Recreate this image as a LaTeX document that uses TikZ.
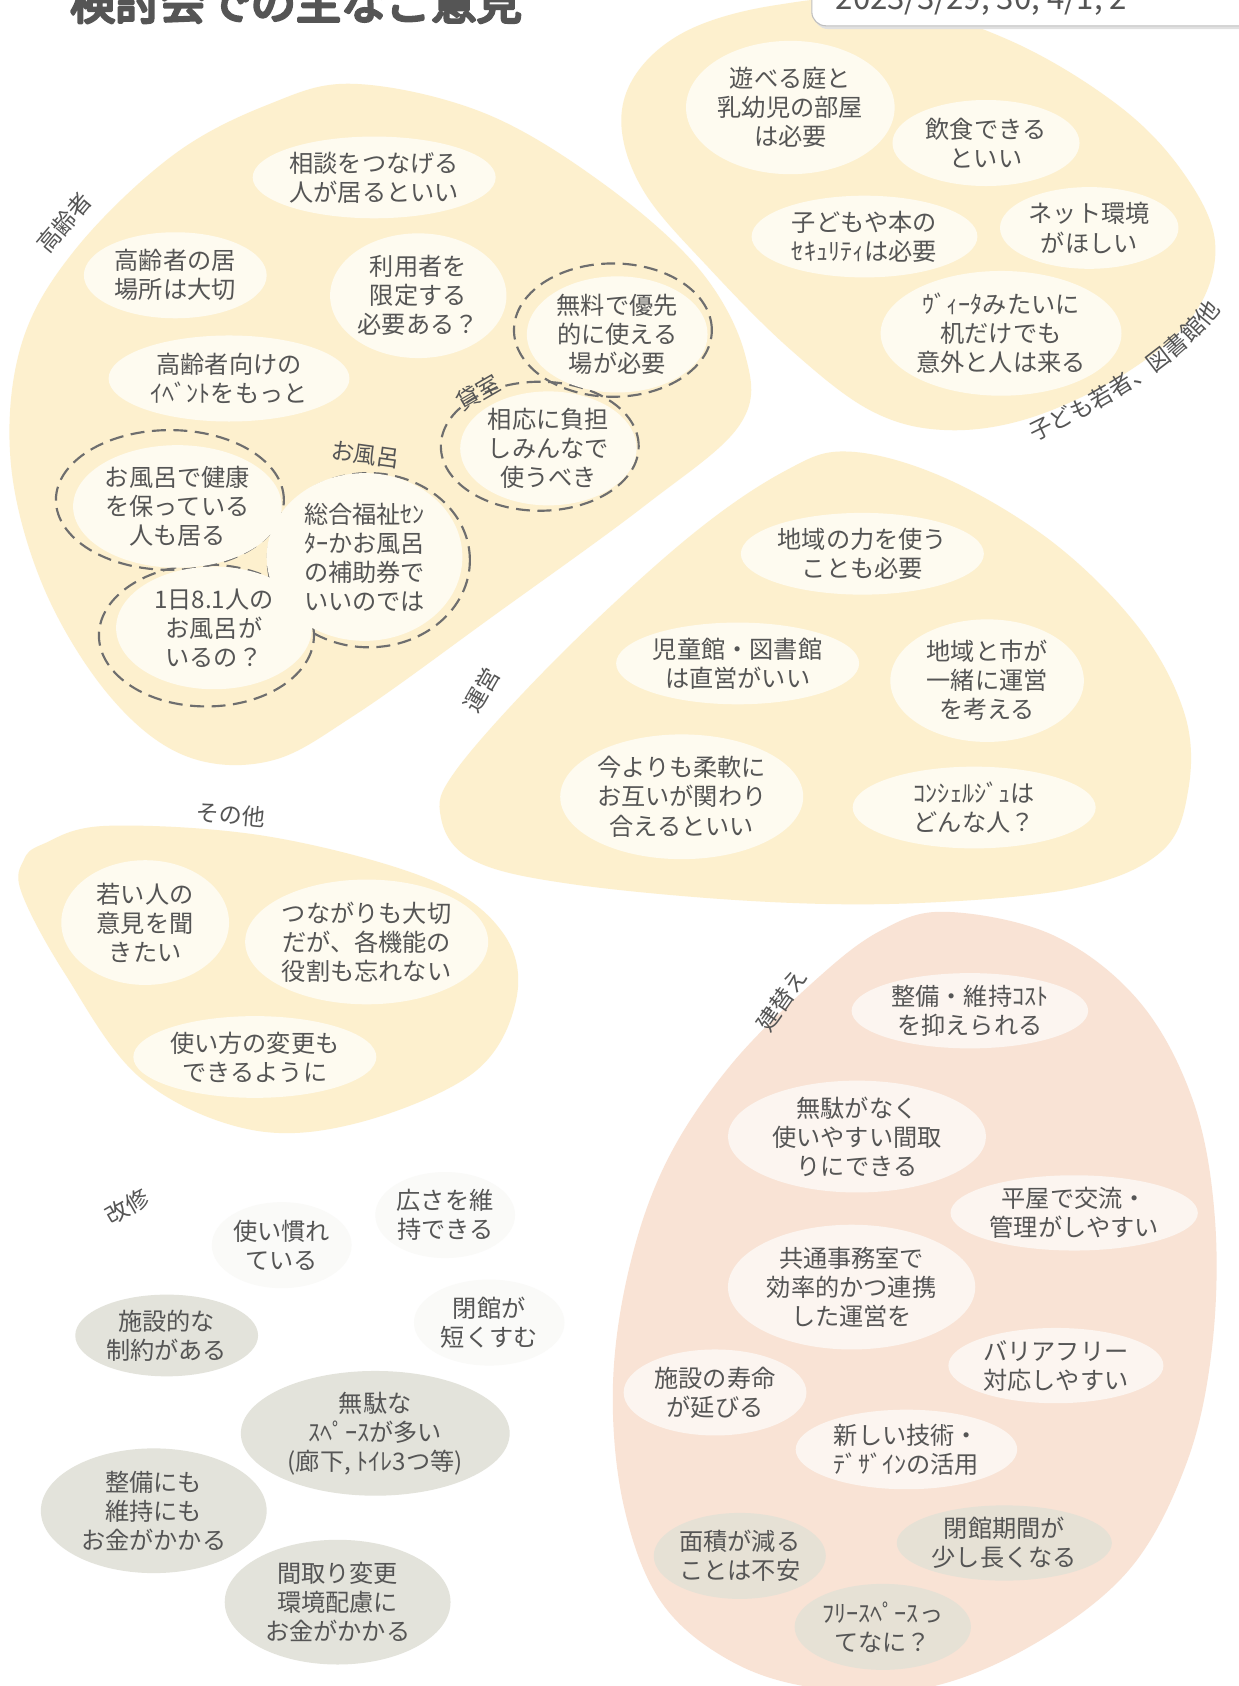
\documentclass[tikz,border=0pt]{standalone}
\usepackage{fontspec}
\setmainfont{Noto Sans CJK JP}
\usetikzlibrary{shapes.geometric,decorations.text}
\definecolor{blobY}{HTML}{FDF0CE}
\definecolor{blobP}{HTML}{F9E3D5}
\definecolor{creamY}{HTML}{FEFBF0}
\definecolor{creamP}{HTML}{FCF5F0}
\definecolor{grayE}{HTML}{E3E3DB}
\definecolor{grayP}{HTML}{E6E1D5}
\definecolor{faintE}{HTML}{FAFAF8}
\definecolor{txt}{HTML}{555555}
\definecolor{ringc}{HTML}{6E6E6E}
\newcommand{\heavytext}[1]{\special{pdf:literal direct 2 Tr 2.6 w 1 j 0.333 0.333 0.333 RG}#1\special{pdf:literal direct 0 Tr}}
\tikzset{
  idea/.style={ellipse, inner xsep=-30pt, inner ysep=-20pt, outer sep=0pt, align=center,
     text=txt, font=\fontsize{22.5}{27}\selectfont},
  ideaY/.style={idea, fill=creamY},
  ideaP/.style={idea, fill=creamP},
  ideaG/.style={idea, fill=grayE},
  ideaGP/.style={idea, fill=grayP},
  ideaF/.style={idea, fill=faintE},
  ring/.style={ellipse, draw=ringc, line width=2pt, dash pattern=on 13pt off 7pt, inner sep=0pt},
  grp/.style={text=txt, font=\fontsize{21.5}{24}\selectfont, inner sep=0pt}
}
\begin{document}
\begin{tikzpicture}[x=1pt,y=-1pt]
\useasboundingbox (0,0) rectangle (1152,1568);
\fill[white] (0,0) rectangle (1152,1568);

% ---- blobs ----
\fill[blobY] plot[smooth cycle, tension=0.6] coordinates {
 (330,78) (450,105) (560,170) (650,250) (693,330) (688,395) (600,470) (460,572)
 (330,665) (250,708) (170,702) (100,645) (40,545) (10,430) (20,320) (70,232) (160,145) (250,97)};
\fill[blobY] plot[smooth cycle, tension=0.6] coordinates {
 (720,5) (820,0) (940,38) (1040,98) (1100,160) (1130,225) (1112,290) (1050,345)
 (960,388) (880,400) (810,382) (735,325) (660,250) (600,180) (578,118) (592,68) (640,28)};
\fill[blobY] plot[smooth cycle, tension=0.6] coordinates {
 (790,420) (880,445) (980,505) (1060,585) (1102,665) (1105,735) (1080,792) (1000,826)
 (850,840) (700,838) (530,822) (440,800) (410,760) (425,715) (520,610) (640,500) (730,438)};
\fill[blobY] plot[smooth cycle, tension=0.6] coordinates {
 (40,785) (100,768) (250,778) (400,818) (468,868) (480,930) (440,998) (330,1045)
 (230,1050) (130,1002) (60,905) (20,830) (22,800)};
\fill[blobP] plot[smooth cycle, tension=0.6] coordinates {
 (880,848) (980,870) (1060,932) (1110,1025) (1130,1135) (1127,1255) (1103,1362) (1050,1460)
 (960,1530) (860,1570) (760,1570) (680,1545) (615,1490) (580,1400) (570,1290) (585,1180)
 (620,1080) (680,990) (760,910) (820,865)};

% ---- title and date ----
\node[anchor=base west, text=txt, font=\fontsize{42}{42}\selectfont, inner sep=0pt] (title) at (65,18) {\heavytext{検討会での主なご意見}};
\fill[black!12, rounded corners=13pt] (757,-30) rectangle (1190,27);
\draw[draw=black!25, fill=white, line width=1pt, rounded corners=13pt] (755,-30) rectangle (1190,24);
\node[anchor=base west, text=txt, font=\fontsize{29}{29}\selectfont, inner sep=0pt] (date) at (777,9) {2023/3/29, 30, 4/1, 2};

% ---- 高齢者 ----
\node[grp, rotate=50] (gK) at (60,207) {高齢者};
\node[ring, minimum width=184pt, minimum height=124pt] (r5) at (570,307) {};
\node[ring, minimum width=184pt, minimum height=120pt] (r6) at (502,415) {};
\node[ring, minimum width=212pt, minimum height=130pt] (r7) at (158,465) {};
\node[ring, minimum width=188pt, minimum height=162pt] (r8) at (343,521) {};
\node[ring, minimum width=200pt, minimum height=132pt] (r9) at (192,591) {};
\node[ideaY, minimum width=226pt, minimum height=76pt] (k1) at (348,165) {相談をつなげる\\人が居るといい};
\node[ideaY, minimum width=170pt, minimum height=80pt] (k2) at (163,256) {高齢者の居\\場所は大切};
\node[ideaY, minimum width=164pt, minimum height=116pt] (k3) at (389,275) {利用者を\\限定する\\必要ある？};
\node[ideaY, minimum width=224pt, minimum height=80pt] (k4) at (213,352) {高齢者向けの\\ｲﾍﾞﾝﾄをもっと};
\node[ideaY, minimum width=168pt, minimum height=108pt] (k5) at (574,311) {無料で優先\\的に使える\\場が必要};
\node[ideaY, minimum width=164pt, minimum height=106pt] (k6) at (510,417) {相応に負担\\しみんなで\\使うべき};
\node[ideaY, minimum width=194pt, minimum height=114pt] (k7) at (165,471) {お風呂で健康\\を保っている\\人も居る};
\node[ideaY, minimum width=182pt, minimum height=156pt] (k8) at (339,518) {総合福祉ｾﾝ\\ﾀｰかお風呂\\の補助券で\\いいのでは};
\node[ideaY, minimum width=182pt, minimum height=114pt] (k9) at (199,584) {1日8.1人の\\お風呂が\\いるの？};
\node[grp, rotate=-8] (gB) at (340,423) {お風呂};
\node[grp, rotate=30] (gR) at (445,365) {貸室};

% ---- 子ども若者、図書館他 ----
\node[ideaY, minimum width=194pt, minimum height=124pt] (c1) at (735,100) {遊べる庭と\\乳幼児の部屋\\は必要};
\node[ideaY, minimum width=174pt, minimum height=80pt] (c2) at (917,133) {飲食できる\\といい};
\node[ideaY, minimum width=210pt, minimum height=76pt] (c3) at (804,220) {子どもや本の\\ｾｷｭﾘﾃｨは必要};
\node[ideaY, minimum width=166pt, minimum height=76pt] (c4) at (1013,212) {ネット環境\\がほしい};
\node[ideaY, minimum width=224pt, minimum height=116pt] (c5) at (931,310) {ｳﾞｨｰﾀみたいに\\机だけでも\\意外と人は来る};
\coordinate (cs) at (955,414);
\coordinate (ce) at (1140,282);
\path[decorate, decoration={text along path, text color=txt, text align=center,
   text={|\fontsize{21.5}{24}\selectfont|子ども若者、図書館他}}]
   (cs) .. controls (1027,380) and (1100,339) .. (ce);

% ---- 運営 ----
\node[grp, rotate=60] (gU) at (448,642) {運営};
\node[ideaY, minimum width=226pt, minimum height=76pt] (u1) at (802,515) {地域の力を使う\\ことも必要};
\node[ideaY, minimum width=226pt, minimum height=76pt] (u2) at (686,617) {児童館・図書館\\は直営がいい};
\node[ideaY, minimum width=180pt, minimum height=114pt] (u3) at (918,633) {地域と市が\\一緒に運営\\を考える};
\node[ideaY, minimum width=226pt, minimum height=116pt] (u4) at (634,741) {今よりも柔軟に\\お互いが関わり\\合えるといい};
\node[ideaY, minimum width=226pt, minimum height=76pt] (u5) at (906,751) {ｺﾝｼｪﾙｼﾞｭは\\どんな人？};

% ---- その他 ----
\node[grp, rotate=-5] (gO) at (215,758) {その他};
\node[ideaY, minimum width=156pt, minimum height=116pt] (o1) at (135,858) {若い人の\\意見を聞\\きたい};
\node[ideaY, minimum width=226pt, minimum height=116pt] (o2) at (341,876) {つながりも大切\\だが、各機能の\\役割も忘れない};
\node[ideaY, minimum width=226pt, minimum height=76pt] (o3) at (237,983) {使い方の変更も\\できるように};

% ---- 改修 ----
\node[grp, rotate=30] (gM) at (118,1122) {改修};
\node[ideaF, minimum width=130pt, minimum height=80pt] (m1) at (262,1158) {使い慣れ\\ている};
\node[ideaF, minimum width=130pt, minimum height=80pt] (m2) at (414,1130) {広さを維\\持できる};
\node[ideaF, minimum width=140pt, minimum height=80pt] (m3) at (455,1230) {閉館が\\短くすむ};
\node[ideaG, minimum width=170pt, minimum height=76pt] (m4) at (155,1242) {施設的な\\制約がある};
\node[ideaG, minimum width=250pt, minimum height=116pt] (m5) at (349,1333) {無駄な\\ｽﾍﾟｰｽが多い\\(廊下, ﾄｲﾚ3つ等)};
\node[ideaG, minimum width=210pt, minimum height=116pt] (m6) at (143,1405) {整備にも\\維持にも\\お金がかかる};
\node[ideaG, minimum width=210pt, minimum height=116pt] (m7) at (314,1490) {間取り変更\\環境配慮に\\お金がかかる};

% ---- 建替え ----
\node[grp, rotate=55] (gT) at (727,930) {建替え};
\node[ideaP, minimum width=220pt, minimum height=70pt] (t1) at (902,940) {整備・維持ｺｽﾄ\\を抑えられる};
\node[ideaP, minimum width=240pt, minimum height=104pt] (t2) at (797,1057) {無駄がなく\\使いやすい間取\\りにできる};
\node[ideaP, minimum width=230pt, minimum height=70pt] (t3) at (999,1128) {平屋で交流・\\管理がしやすい};
\node[ideaP, minimum width=230pt, minimum height=116pt] (t4) at (792,1197) {共通事務室で\\効率的かつ連携\\した運営を};
\node[ideaP, minimum width=170pt, minimum height=80pt] (t5) at (665,1295) {施設の寿命\\が延びる};
\node[ideaP, minimum width=200pt, minimum height=70pt] (t6) at (982,1270) {バリアフリー\\対応しやすい};
\node[ideaP, minimum width=206pt, minimum height=74pt] (t7) at (843,1348) {新しい技術・\\ﾃﾞｻﾞｲﾝの活用};
\node[ideaGP, minimum width=160pt, minimum height=80pt] (t8) at (688,1447) {面積が減る\\ことは不安};
\node[ideaGP, minimum width=200pt, minimum height=70pt] (t9) at (934,1435) {閉館期間が\\少し長くなる};
\node[ideaGP, minimum width=164pt, minimum height=80pt] (t10) at (821,1513) {ﾌﾘｰｽﾍﾟｰｽっ\\てなに？};
\end{tikzpicture}
\end{document}
